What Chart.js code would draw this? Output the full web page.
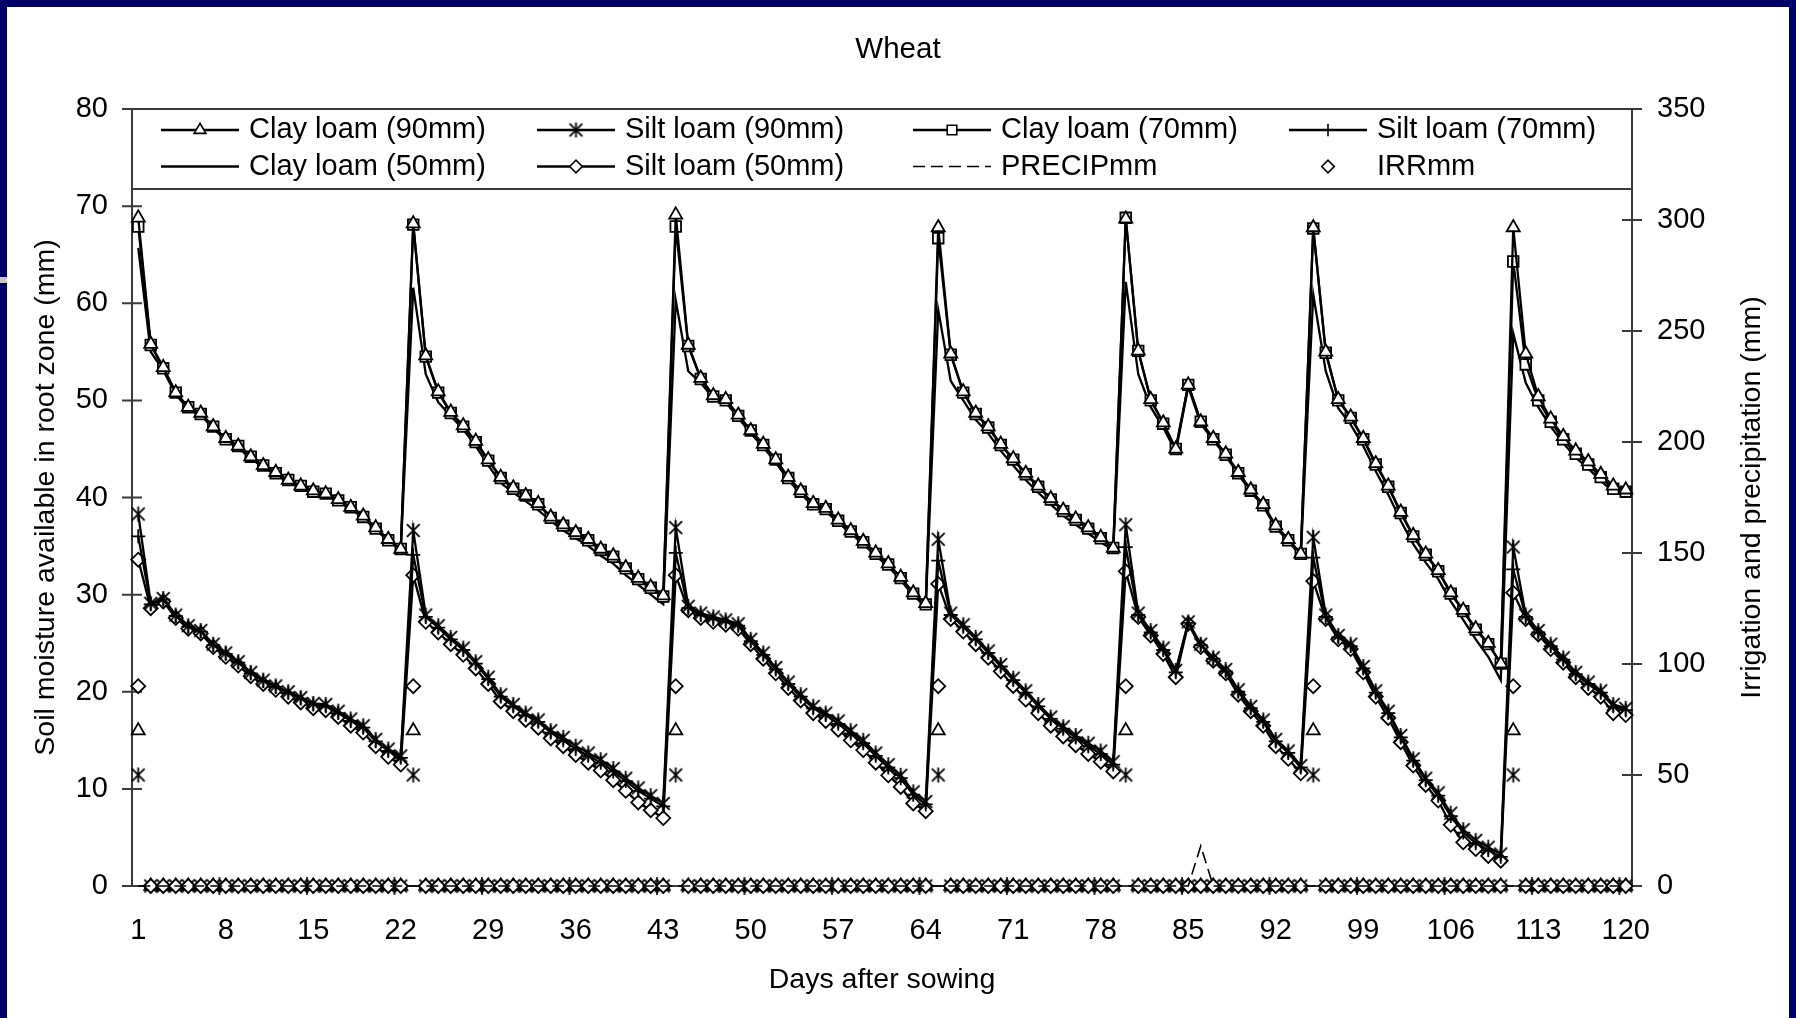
<!DOCTYPE html>
<html><head><meta charset="utf-8">
<script src="https://cdn.jsdelivr.net/npm/chart.js@4.4.0/dist/chart.umd.min.js"></script>
<style>html,body{margin:0;padding:0;background:#000066;overflow:hidden}canvas{display:block}</style>
</head><body>
<canvas id="c" width="1796" height="1018"></canvas>
<script>
const chartTitle = 'Wheat';
const xAxisTitle = 'Days after sowing';
const yAxisTitle = 'Soil moisture available in root zone (mm)';
const y2AxisTitle = 'Irrigation and precipitation (mm)';
const seriesNames = ['Clay loam (90mm)','Silt loam (90mm)','Clay loam (70mm)','Silt loam (70mm)','Clay loam (50mm)','Silt loam (50mm)','PRECIPmm','IRRmm'];

const days = [
 1,2,3,4,5,6,7,8,9,10, 11,12,13,14,15,16,17,18,19,20,
 21,22,23,24,25,26,27,28,29,30, 31,32,33,34,35,36,37,38,39,40,
 41,42,43,44,45,46,47,48,49,50, 51,52,53,54,55,56,57,58,59,60,
 61,62,63,64,65,66,67,68,69,70, 71,72,73,74,75,76,77,78,79,80,
 81,82,83,84,85,86,87,88,89,90, 91,92,93,94,95,96,97,98,99,100,
 101,102,103,104,105,106,107,108,109,110, 111,112,113,114,115,116,117,118,119,120];
const xTickLabels = [1,8,15,22,29,36,43,50,57,64,71,78,85,92,99,106,113,120];
const yTicks = {min:0, max:80, step:10};
const y2Ticks = {min:0, max:350, step:50};

const clayLoam90 = [
 68.8,55.8,53.4,50.8,49.3,48.7,47.3,46.1,45.3,44.2,
 43.3,42.6,41.8,41.2,40.7,40.4,39.8,39.0,38.1,36.9,
 35.7,34.7,68.2,54.6,50.9,48.8,47.4,45.8,43.9,42.1,
 41.0,40.2,39.4,38.0,37.2,36.4,35.7,34.7,34.0,32.8,
 31.7,30.8,29.9,69.1,55.7,52.3,50.5,50.1,48.5,46.9,
 45.5,43.9,42.1,40.7,39.4,38.9,37.7,36.6,35.5,34.3,
 33.2,31.8,30.2,29.1,67.8,54.8,50.9,48.7,47.3,45.5,
 44.0,42.5,41.2,39.9,38.7,37.8,36.9,35.9,34.8,68.7,
 55.1,50.1,47.7,45.0,51.6,47.8,46.1,44.5,42.6,40.8,
 39.3,37.1,35.7,34.2,67.8,55.0,50.1,48.3,46.1,43.5,
 41.2,38.5,36.1,34.2,32.5,30.2,28.4,26.5,25.0,22.9,
 67.8,54.8,50.4,48.1,46.3,44.8,43.7,42.4,41.2,40.8];
const clayLoam70 = [
 67.9,55.7,53.3,50.8,49.3,48.6,47.3,46.0,45.3,44.2,
 43.3,42.5,41.8,41.2,40.6,40.4,39.7,39.0,38.0,36.8,
 35.6,34.7,68.1,54.5,50.8,48.7,47.3,45.7,43.8,42.0,
 40.9,40.2,39.3,37.9,37.1,36.3,35.6,34.6,33.9,32.7,
 31.6,30.7,29.8,67.9,55.6,52.2,50.4,50.0,48.4,46.9,
 45.4,43.9,42.0,40.6,39.3,38.8,37.6,36.5,35.4,34.2,
 33.1,31.7,30.1,29.0,66.7,54.7,50.8,48.6,47.2,45.4,
 43.9,42.4,41.1,39.8,38.6,37.7,36.8,35.8,34.8,68.8,
 55.1,50.0,47.6,45.0,51.6,47.8,46.0,44.4,42.5,40.7,
 39.2,37.0,35.6,34.2,67.7,54.9,50.0,48.2,46.0,43.4,
 41.1,38.4,36.0,34.1,32.4,30.1,28.3,26.4,24.9,22.9,
 64.3,53.7,50.0,47.8,46.0,44.5,43.4,42.1,40.9,40.6];
const clayLoam50 = [
 65.7,55.0,53.1,50.6,49.1,48.5,47.1,45.9,45.1,44.0,
 43.1,42.4,41.6,41.0,40.5,40.2,39.6,38.8,37.9,36.7,
 35.5,34.6,61.6,52.7,49.8,48.4,47.0,45.3,43.3,41.5,
 40.5,39.6,38.7,37.6,36.6,35.8,35.0,34.0,33.2,32.0,
 31.0,30.0,29.0,60.3,53.0,51.8,50.2,49.8,48.2,46.6,
 45.2,43.6,41.8,40.4,39.1,38.6,37.4,36.3,35.2,34.0,
 32.9,31.5,29.9,28.8,59.3,52.0,50.0,48.0,46.6,44.8,
 43.3,41.8,40.5,39.3,38.1,37.2,36.3,35.4,34.6,62.2,
 52.7,49.3,47.2,44.7,51.4,47.6,45.9,44.3,42.4,40.6,
 39.1,36.9,35.5,34.0,60.9,53.0,49.2,47.5,45.3,42.7,
 40.3,37.6,35.2,33.3,31.6,29.3,27.4,25.4,23.6,21.2,
 56.9,51.8,49.3,47.3,45.6,44.1,43.0,41.7,40.6,40.3];
const siltLoam90 = [
 38.3,29.1,29.6,27.9,26.8,26.3,24.9,24.0,23.1,22.0,
 21.2,20.6,20.0,19.4,18.8,18.7,18.0,17.2,16.5,15.1,
 14.1,13.4,36.6,27.9,26.8,25.6,24.5,23.1,21.5,19.7,
 18.7,17.8,17.1,16.0,15.3,14.4,13.7,13.0,12.1,11.1,
 10.1,9.3,8.5,36.9,28.8,28.1,27.7,27.4,27.0,25.4,
 24.0,22.5,21.0,19.7,18.5,17.8,17.0,16.0,15.0,13.7,
 12.5,11.4,9.7,8.7,35.7,28.1,26.9,25.6,24.2,22.8,
 21.4,20.1,18.7,17.4,16.4,15.5,14.7,13.9,12.8,37.2,
 28.1,26.3,24.5,22.2,27.2,24.9,23.5,22.3,20.2,18.5,
 17.1,15.1,13.9,12.4,35.9,27.9,25.8,24.9,22.6,20.1,
 18.0,15.5,13.1,11.1,9.6,7.5,5.8,4.7,4.0,3.3,
 34.9,27.9,26.3,24.9,23.5,22.0,21.0,20.1,18.7,18.3];
const siltLoam70 = [
 36.0,29.0,29.5,27.8,26.7,26.2,24.8,23.9,23.0,21.9,
 21.1,20.5,19.9,19.3,18.7,18.5,17.8,17.0,16.3,14.9,
 13.9,13.2,34.1,27.7,26.6,25.4,24.3,22.9,21.3,19.5,
 18.5,17.6,16.9,15.8,15.0,14.1,13.4,12.7,11.8,10.8,
 9.8,9.0,8.2,34.3,28.6,27.9,27.5,27.2,26.8,25.2,
 23.8,22.3,20.8,19.5,18.3,17.6,16.7,15.7,14.7,13.4,
 12.2,11.1,9.4,8.4,33.5,27.9,26.7,25.4,24.0,22.6,
 21.2,19.9,18.5,17.2,16.2,15.3,14.4,13.6,12.5,34.9,
 27.9,26.1,24.3,22.0,27.1,24.8,23.4,22.1,20.0,18.3,
 16.9,14.9,13.7,12.2,33.8,27.7,25.6,24.7,22.4,19.9,
 17.8,15.3,12.9,10.9,9.3,7.2,5.5,4.4,3.7,3.0,
 32.6,27.7,26.1,24.7,23.3,21.8,20.8,19.9,18.5,18.1];
const siltLoam50 = [
 33.6,28.6,29.3,27.6,26.5,26.0,24.6,23.6,22.7,21.6,
 20.8,20.2,19.5,18.9,18.3,18.1,17.4,16.5,15.8,14.4,
 13.3,12.5,32.0,27.2,26.1,24.9,23.8,22.4,20.8,19.0,
 18.0,17.1,16.3,15.2,14.4,13.5,12.7,11.9,10.9,9.8,
 8.6,7.8,7.0,32.0,28.4,27.6,27.2,26.9,26.5,24.9,
 23.4,21.9,20.4,19.1,17.8,17.0,16.1,15.0,14.0,12.7,
 11.4,10.2,8.5,7.7,31.1,27.5,26.2,24.9,23.5,22.1,
 20.6,19.2,17.8,16.5,15.4,14.5,13.6,12.8,11.8,32.4,
 27.7,25.8,23.9,21.5,27.0,24.6,23.2,21.9,19.7,18.0,
 16.5,14.4,13.1,11.6,31.4,27.5,25.4,24.4,22.0,19.5,
 17.3,14.8,12.4,10.4,8.8,6.3,4.5,3.8,3.1,2.6,
 30.2,27.5,25.9,24.4,23.0,21.5,20.4,19.5,17.8,17.6];
const precipMm = [
 0,0,0,0,0,0,0,0,0,0, 0,0,0,0,0,0,0,0,0,0,
 0,0,0,0,0,0,0,0,0,0, 0,0,0,0,0,0,0,0,0,0,
 0,0,0,0,0,0,0,0,0,0, 0,0,0,0,0,0,0,0,0,0,
 0,0,0,0,0,0,0,0,0,0, 0,0,0,0,0,0,0,0,0,0,
 0,0,0,0,0,18,0,0,0,0, 0,0,0,0,0,0,0,0,0,0,
 0,0,0,0,0,0,0,0,0,0, 0,0,0,0,0,0,0,0,0,0];
const irr90 = [
 90,0,0,0,0,0,0,0,0,0, 0,0,0,0,0,0,0,0,0,0,
 0,0,90,0,0,0,0,0,0,0, 0,0,0,0,0,0,0,0,0,0,
 0,0,0,90,0,0,0,0,0,0, 0,0,0,0,0,0,0,0,0,0,
 0,0,0,0,90,0,0,0,0,0, 0,0,0,0,0,0,0,0,0,90,
 0,0,0,0,0,0,0,0,0,0, 0,0,0,0,90,0,0,0,0,0,
 0,0,0,0,0,0,0,0,0,0, 90,0,0,0,0,0,0,0,0,0];
const irr70 = [
 70,0,0,0,0,0,0,0,0,0, 0,0,0,0,0,0,0,0,0,0,
 0,0,70,0,0,0,0,0,0,0, 0,0,0,0,0,0,0,0,0,0,
 0,0,0,70,0,0,0,0,0,0, 0,0,0,0,0,0,0,0,0,0,
 0,0,0,0,70,0,0,0,0,0, 0,0,0,0,0,0,0,0,0,70,
 0,0,0,0,0,0,0,0,0,0, 0,0,0,0,70,0,0,0,0,0,
 0,0,0,0,0,0,0,0,0,0, 70,0,0,0,0,0,0,0,0,0];
const irr50 = [
 50,0,0,0,0,0,0,0,0,0, 0,0,0,0,0,0,0,0,0,0,
 0,0,50,0,0,0,0,0,0,0, 0,0,0,0,0,0,0,0,0,0,
 0,0,0,50,0,0,0,0,0,0, 0,0,0,0,0,0,0,0,0,0,
 0,0,0,0,50,0,0,0,0,0, 0,0,0,0,0,0,0,0,0,50,
 0,0,0,0,0,0,0,0,0,0, 0,0,0,0,50,0,0,0,0,0,
 0,0,0,0,0,0,0,0,0,0, 50,0,0,0,0,0,0,0,0,0];

const FONT = "'Liberation Sans', Arial, sans-serif";
Chart.defaults.font.family = FONT;
Chart.defaults.font.size = 29;
Chart.defaults.color = '#000';

function makeAsterisk(size, lw) {
  const c = document.createElement('canvas');
  c.width = size; c.height = size;
  const g = c.getContext('2d');
  g.strokeStyle = '#000'; g.lineWidth = lw;
  const m = size / 2, r = size / 2 - 1, d = r * 0.85;
  g.beginPath();
  g.moveTo(m, m - r); g.lineTo(m, m + r);
  g.moveTo(m - d, m - d); g.lineTo(m + d, m + d);
  g.moveTo(m + d, m - d); g.lineTo(m - d, m + d);
  g.stroke();
  return c;
}
const asterisk = makeAsterisk(17, 1.8);

function ds(label, data, style, radius, extra) {
  return Object.assign({
    label, data, yAxisID: 'y',
    borderColor: '#000', borderWidth: 2.3, tension: 0,
    pointStyle: style, pointRadius: radius,
    pointBackgroundColor: '#fff', pointBorderColor: '#000', pointBorderWidth: 1.8,
    clip: false
  }, extra || {});
}

const datasets = [
  ds(seriesNames[0], clayLoam90, 'triangle', 7.5),
  ds(seriesNames[1], siltLoam90, asterisk, 8),
  ds(seriesNames[2], clayLoam70, 'rect', 7.5),
  ds(seriesNames[3], siltLoam70, 'cross', 7),
  ds(seriesNames[4], clayLoam50, 'circle', 0),
  ds(seriesNames[5], siltLoam50, 'rectRot', 7),
  ds(seriesNames[6], precipMm, 'circle', 0, {yAxisID: 'y2', borderDash: [12, 6], borderWidth: 1.6}),
  ds(seriesNames[7], irr90, 'rectRot', 7, {yAxisID: 'y2', showLine: false}),
  ds('IRR 70mm', irr70, 'triangle', 7.5, {yAxisID: 'y2', showLine: false}),
  ds('IRR 50mm', irr50, asterisk, 8, {yAxisID: 'y2', showLine: false})
];

const framePlugin = {
  id: 'frame',
  beforeDraw(chart) {
    const ctx = chart.ctx;
    ctx.save();
    ctx.fillStyle = '#000066';
    ctx.fillRect(0, 0, chart.width, chart.height);
    ctx.fillStyle = '#ffffff';
    ctx.fillRect(7, 7, chart.width - 14, chart.height - 7);
    ctx.fillStyle = '#c8c8c8';
    ctx.fillRect(0, 277, 7, 6);
    ctx.restore();
  },
  beforeDatasetsDraw(chart) {
    const {ctx, chartArea: a, scales} = chart;
    ctx.save();
    ctx.strokeStyle = '#3a3a3a';
    ctx.lineWidth = 2;
    ctx.strokeRect(a.left, a.top, a.right - a.left, a.bottom - a.top);
    ctx.beginPath();
    scales.y.ticks.forEach(t => {
      const y = scales.y.getPixelForValue(t.value);
      ctx.moveTo(a.left - 10, y); ctx.lineTo(a.left + 10, y);
    });
    scales.y2.ticks.forEach(t => {
      const y = scales.y2.getPixelForValue(t.value);
      ctx.moveTo(a.right - 10, y); ctx.lineTo(a.right + 10, y);
    });
    xTickLabels.slice(1).forEach(v => {
      const x = scales.x.getPixelForValue(v - 0.5);
      ctx.moveTo(x, a.bottom - 9); ctx.lineTo(x, a.bottom + 9);
    });
    ctx.stroke();
    ctx.beginPath();
    ctx.moveTo(a.left, a.top + 80); ctx.lineTo(a.right, a.top + 80);
    ctx.stroke();
    ctx.restore();
  },
  afterDatasetsDraw(chart) {
    const {ctx, chartArea: a} = chart;
    ctx.save();
    const items = chart.data.datasets.slice(0, 8);
    items.forEach((d, i) => {
      const col = i % 4, row = Math.floor(i / 4);
      const x0 = a.left + 29 + col * 376;
      const y = a.top + 21 + row * 36.5;
      ctx.strokeStyle = '#000';
      if (d.showLine !== false) {
        ctx.lineWidth = d.borderWidth;
        ctx.setLineDash(d.borderDash || []);
        ctx.beginPath(); ctx.moveTo(x0, y); ctx.lineTo(x0 + 78, y); ctx.stroke();
        ctx.setLineDash([]);
      }
      if (d.pointRadius > 0) {
        ctx.fillStyle = '#fff';
        ctx.lineWidth = 1.6;
        Chart.helpers.drawPoint(ctx, {pointStyle: d.pointStyle, radius: d.pointRadius * 0.9, rotation: 0, borderWidth: 1.6}, x0 + 39, y);
      }
      ctx.fillStyle = '#000';
      ctx.font = '29px ' + FONT;
      ctx.textAlign = 'left';
      ctx.textBaseline = 'middle';
      ctx.fillText(d.label, x0 + 88, y);
    });
    ctx.translate(1752, (a.top + a.bottom) / 2);
    ctx.rotate(-Math.PI / 2);
    ctx.textAlign = 'center';
    ctx.textBaseline = 'middle';
    ctx.font = '28.5px ' + FONT;
    ctx.fillText(y2AxisTitle, 0, 0);
    ctx.restore();
  }
};

new Chart(document.getElementById('c'), {
  type: 'line',
  data: { labels: days, datasets },
  options: {
    responsive: false,
    animation: false,
    events: [],
    layout: { padding: 0 },
    plugins: {
      legend: { display: false },
      tooltip: { enabled: false },
      title: {
        display: true, text: chartTitle, color: '#000',
        font: { size: 29.5, weight: 'normal' },
        padding: { top: 32.3, bottom: 41.3 }
      }
    },
    scales: {
      x: {
        type: 'linear', position: 'bottom',
        min: 0.5, max: 120.5,
        grid: { display: false, drawTicks: false },
        border: { display: false },
        afterBuildTicks: s => { s.ticks = xTickLabels.map(v => ({ value: v })); },
        afterFit: s => { s.height = 132; },
        ticks: { autoSkip: false, maxRotation: 0, padding: 28, callback: v => String(v) },
        title: { display: true, text: xAxisTitle, font: { size: 28.5 }, padding: { top: 0, bottom: 20.9 } }
      },
      y: {
        position: 'left', min: yTicks.min, max: yTicks.max,
        grid: { display: false, drawTicks: false },
        border: { display: false },
        afterFit: s => { s.width = 132; },
        ticks: { stepSize: yTicks.step, padding: 24 },
        title: { display: true, text: yAxisTitle, font: { size: 28.5 }, padding: { top: 28.9, bottom: 0 } }
      },
      y2: {
        position: 'right', min: y2Ticks.min, max: y2Ticks.max,
        grid: { display: false, drawTicks: false },
        border: { display: false },
        afterFit: s => { s.width = 164; },
        ticks: { stepSize: y2Ticks.step, padding: 25 },
        title: { display: false }
      }
    }
  },
  plugins: [framePlugin]
});
</script>
</body></html>
